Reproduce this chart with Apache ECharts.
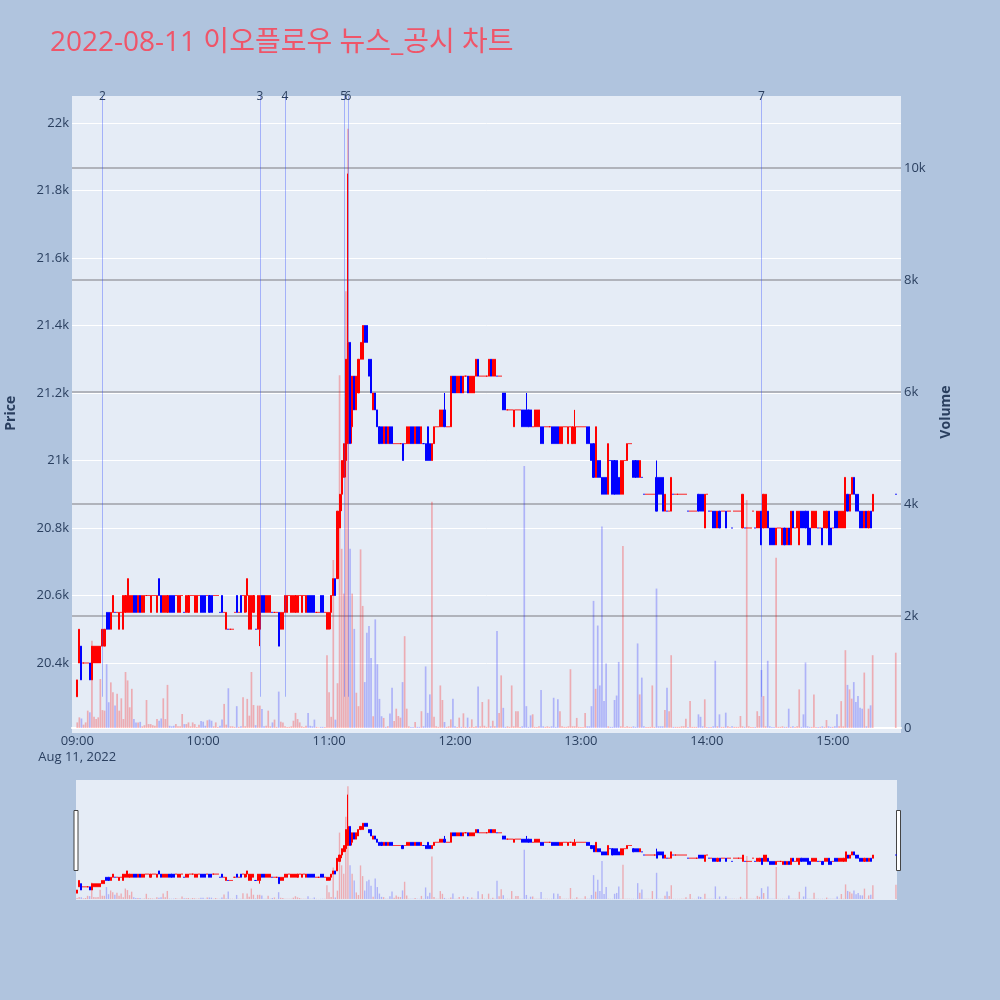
<!DOCTYPE html>
<html><head><meta charset="utf-8">
<script src="https://cdn.jsdelivr.net/npm/echarts@6/dist/echarts.min.js"></script>
<style>html,body{margin:0;padding:0;background:#b0c4de;}#c{width:1000px;height:1000px;}</style>
</head><body><div id="c"></div>
<script>
const chartTitle = '2022-08-11 이오플로우 뉴스_공시 차트';
const dateLabel = 'Aug 11, 2022';
const sessionStartMin = 9 * 60;      // 09:00
const sessionMinutes = 391;          // 09:00 .. 15:30
const padBefore = ['08:58', '08:59'];
const padAfter = ['15:31', '15:32'];

const opens = [
20300,20400,20450,20400,20400,20400,20400,20350,20400,20400,
20400,20400,20450,20450,20550,20550,20500,20550,20550,20550,
20500,20550,20500,20550,20550,20550,20550,20600,20600,20550,
20600,20550,20550,20600,20600,20550,20600,20600,20550,20650,
20600,20550,20550,20550,20600,20600,20600,20600,20550,20550,
20600,20550,20550,20550,20600,20600,20550,20550,20600,20600,
20600,20600,20600,20600,20600,20600,20600,20600,20550,20600,
20550,20500,20500,20500,20500,20550,20600,20550,20600,20600,
20550,20600,20500,20500,20550,20500,20500,20500,20600,20600,
20550,20550,20550,20550,20550,20550,20550,20500,20500,20550,
20550,20600,20550,20550,20550,20550,20600,20550,20600,20550,
20600,20600,20600,20600,20550,20550,20600,20600,20550,20500,
20500,20550,20600,20650,20650,20800,20900,20950,21000,21050,
21350,21100,21250,21150,21200,21300,21300,21400,21400,21300,
21300,21150,21200,21150,21100,21100,21050,21100,21050,21100,
21100,21050,21050,21050,21050,21050,21050,21050,21050,21100,
21100,21050,21100,21100,21050,21050,21050,21100,21050,21000,
21050,21100,21100,21100,21100,21150,21100,21100,21100,21250,
21250,21200,21200,21250,21200,21250,21250,21200,21200,21200,
21250,21300,21250,21250,21250,21250,21250,21300,21250,21250,
21250,21250,21250,21200,21200,21150,21150,21150,21100,21150,
21150,21150,21150,21150,21150,21150,21150,21100,21100,21100,
21100,21100,21100,21100,21100,21100,21100,21100,21100,21100,
21050,21050,21100,21100,21050,21100,21050,21050,21100,21100,
21100,21100,21100,21100,21100,21050,21050,20950,21000,21000,
20950,20950,20950,20900,21000,21000,21000,21000,20950,20900,
20900,21000,21000,21050,21050,21000,21000,21000,20950,20950,
20900,20900,20900,20900,20900,20900,20950,20950,20950,20950,
20850,20850,20850,20850,20900,20900,20900,20900,20900,20900,
20900,20850,20850,20850,20850,20850,20900,20900,20900,20800,
20900,20850,20850,20850,20850,20800,20850,20850,20850,20850,
20850,20850,20800,20850,20850,20850,20850,20800,20800,20800,
20800,20800,20850,20800,20800,20800,20850,20800,20800,20850,
20800,20800,20800,20750,20800,20800,20750,20800,20750,20800,
20750,20850,20800,20800,20750,20850,20850,20850,20850,20800,
20800,20800,20800,20800,20800,20800,20800,20800,20850,20800,
20800,20850,20850,20800,20800,20800,20800,20900,20850,20900,
20950,20900,20900,20850,20850,20800,20850,20800,20850,20850,
null,null,null,null,null,null,null,null,null,null,
20900];

const closes = [
20350,20500,20350,20400,20400,20400,20350,20450,20450,20450,
20450,20450,20500,20500,20500,20500,20550,20600,20550,20550,
20550,20550,20600,20600,20650,20600,20600,20550,20550,20600,
20550,20600,20600,20600,20600,20600,20600,20600,20600,20600,
20550,20600,20600,20600,20550,20550,20550,20600,20600,20600,
20600,20550,20600,20600,20600,20600,20600,20600,20600,20550,
20550,20550,20600,20550,20550,20600,20600,20600,20550,20550,
20550,20550,20500,20500,20500,20550,20550,20550,20550,20600,
20600,20650,20600,20600,20600,20500,20600,20600,20550,20550,
20600,20600,20600,20550,20550,20550,20450,20550,20550,20600,
20600,20600,20600,20600,20600,20600,20600,20600,20600,20600,
20550,20550,20550,20550,20550,20550,20550,20550,20550,20550,
20550,20600,20650,20600,20850,20900,21000,21050,21300,21350,
21050,21250,21150,21250,21300,21350,21400,21350,21350,21250,
21200,21200,21150,21100,21050,21050,21100,21050,21100,21050,
21050,21050,21050,21050,21050,21000,21050,21100,21100,21050,
21050,21100,21050,21050,21100,21050,21000,21000,21000,21050,
21100,21100,21100,21150,21150,21100,21100,21100,21250,21200,
21200,21250,21250,21200,21250,21250,21200,21250,21250,21250,
21300,21250,21250,21250,21250,21250,21300,21250,21300,21300,
21250,21250,21250,21150,21150,21150,21150,21150,21150,21150,
21150,21150,21100,21100,21100,21100,21100,21100,21150,21150,
21150,21050,21050,21100,21100,21100,21050,21050,21050,21050,
21100,21100,21100,21100,21100,21100,21100,21100,21100,21100,
21100,21100,21100,21050,21050,21000,20950,21100,20950,20950,
20900,20900,20900,21050,21000,20900,20900,20900,20900,21000,
21000,21000,21050,21050,21050,20950,20950,20950,21000,20950,
20900,20900,20900,20900,20900,20900,20850,20900,20900,20850,
20900,20850,20850,20950,20900,20900,20900,20900,20900,20900,
20900,20850,20850,20850,20850,20850,20850,20850,20850,20900,
20900,20850,20850,20800,20800,20850,20800,20850,20850,20800,
20850,20850,20800,20850,20850,20850,20850,20900,20800,20800,
20800,20800,20850,20800,20850,20850,20750,20900,20900,20800,
20750,20750,20750,20800,20800,20800,20800,20750,20800,20750,
20850,20800,20800,20850,20850,20800,20800,20800,20750,20750,
20850,20850,20850,20800,20800,20750,20850,20850,20750,20750,
20800,20800,20800,20850,20850,20850,20950,20850,20900,20950,
20900,20850,20850,20800,20800,20850,20800,20850,20800,20900,
null,null,null,null,null,null,null,null,null,null,
20900];

const highs = [
20350,20500,20450,20400,20400,20400,20400,20450,20450,20450,
20450,20450,20500,20500,20550,20550,20550,20600,20550,20550,
20550,20550,20600,20600,20650,20600,20600,20600,20600,20600,
20600,20600,20600,20600,20600,20600,20600,20600,20600,20650,
20600,20600,20600,20600,20600,20600,20600,20600,20600,20600,
20600,20550,20600,20600,20600,20600,20600,20600,20600,20600,
20600,20600,20600,20600,20600,20600,20600,20600,20550,20600,
20550,20550,20500,20500,20500,20550,20600,20550,20600,20600,
20600,20650,20600,20600,20600,20500,20600,20600,20600,20600,
20600,20600,20600,20550,20550,20550,20550,20550,20550,20600,
20600,20600,20600,20600,20600,20600,20600,20600,20600,20600,
20600,20600,20600,20600,20550,20550,20600,20600,20550,20550,
20550,20600,20650,20650,20850,20900,21000,21050,21300,21850,
21350,21250,21250,21250,21300,21350,21400,21400,21400,21300,
21300,21200,21200,21150,21100,21100,21100,21100,21100,21100,
21100,21050,21050,21050,21050,21050,21050,21100,21100,21100,
21100,21100,21100,21100,21100,21050,21050,21100,21050,21050,
21100,21100,21100,21150,21150,21200,21100,21100,21250,21250,
21250,21250,21250,21250,21250,21250,21250,21250,21250,21250,
21300,21300,21250,21250,21250,21250,21300,21300,21300,21300,
21250,21250,21250,21200,21200,21150,21150,21150,21150,21150,
21150,21150,21150,21150,21200,21150,21150,21100,21150,21150,
21150,21100,21100,21100,21100,21100,21100,21100,21100,21100,
21100,21100,21100,21100,21100,21100,21100,21150,21100,21100,
21100,21100,21100,21100,21100,21050,21050,21100,21000,21000,
20950,20950,20950,21050,21000,21000,21000,21000,20950,21000,
21000,21000,21050,21050,21050,21000,21000,21000,21000,20950,
20900,20900,20900,20900,20900,20900,21000,20950,20950,20950,
20900,20850,20850,20950,20900,20900,20900,20900,20900,20900,
20900,20850,20850,20850,20850,20850,20900,20900,20900,20900,
20900,20850,20850,20850,20850,20850,20850,20850,20850,20850,
20850,20850,20800,20850,20850,20850,20850,20900,20800,20800,
20800,20800,20850,20800,20850,20850,20850,20900,20900,20850,
20800,20800,20800,20800,20800,20800,20800,20800,20800,20800,
20850,20850,20800,20850,20850,20850,20850,20850,20850,20800,
20850,20850,20850,20800,20800,20800,20850,20850,20850,20800,
20800,20850,20850,20850,20850,20850,20950,20900,20900,20950,
20950,20900,20900,20850,20850,20850,20850,20850,20850,20900,
null,null,null,null,null,null,null,null,null,null,
20900];

const lows = [
20300,20400,20350,20400,20400,20400,20350,20350,20400,20400,
20400,20400,20450,20450,20500,20500,20500,20550,20550,20550,
20500,20550,20500,20550,20550,20550,20550,20550,20550,20550,
20550,20550,20550,20600,20600,20550,20600,20600,20550,20600,
20550,20550,20550,20550,20550,20550,20550,20600,20550,20550,
20600,20550,20550,20550,20600,20600,20550,20550,20600,20550,
20550,20550,20600,20550,20550,20600,20600,20600,20550,20550,
20550,20500,20500,20500,20500,20550,20550,20550,20550,20600,
20550,20550,20500,20500,20550,20500,20500,20450,20550,20550,
20550,20550,20550,20550,20550,20550,20450,20500,20500,20550,
20550,20600,20550,20550,20550,20550,20600,20550,20600,20550,
20550,20550,20550,20550,20550,20550,20550,20550,20550,20500,
20500,20500,20600,20600,20650,20800,20850,20950,20950,21050,
21050,21050,21150,21150,21200,21300,21300,21350,21350,21250,
21200,21150,21150,21100,21050,21050,21050,21050,21050,21050,
21050,21050,21050,21050,21050,21000,21050,21050,21050,21050,
21050,21050,21050,21050,21050,21050,21000,21000,21000,21000,
21050,21100,21100,21100,21100,21100,21100,21100,21100,21200,
21200,21200,21200,21200,21200,21250,21200,21200,21200,21200,
21250,21250,21250,21250,21250,21250,21250,21250,21250,21250,
21250,21250,21250,21150,21150,21150,21150,21150,21100,21150,
21150,21150,21100,21100,21100,21100,21100,21100,21100,21100,
21100,21050,21050,21100,21100,21100,21050,21050,21050,21050,
21050,21050,21100,21100,21050,21100,21050,21050,21100,21100,
21100,21100,21100,21050,21050,21000,20950,20950,20950,20950,
20900,20900,20900,20900,21000,20900,20900,20900,20900,20900,
20900,21000,21000,21050,21050,20950,20950,20950,20950,20950,
20900,20900,20900,20900,20900,20900,20850,20900,20900,20850,
20850,20850,20850,20850,20900,20900,20900,20900,20900,20900,
20900,20850,20850,20850,20850,20850,20850,20850,20850,20800,
20900,20850,20850,20800,20800,20800,20800,20850,20850,20800,
20850,20850,20800,20850,20850,20850,20850,20800,20800,20800,
20800,20800,20850,20800,20800,20800,20750,20800,20800,20800,
20750,20750,20750,20750,20800,20800,20750,20750,20750,20750,
20750,20800,20800,20800,20750,20800,20800,20800,20750,20750,
20800,20800,20800,20800,20800,20750,20800,20800,20750,20750,
20800,20800,20800,20800,20800,20800,20800,20850,20850,20900,
20900,20850,20850,20800,20800,20800,20800,20800,20800,20850,
null,null,null,null,null,null,null,null,null,null,
20900];

const volumes = [
100,190,170,60,100,310,280,1560,200,160,
190,875,320,310,1140,460,815,640,400,610,
310,530,160,1000,850,370,700,160,100,100,
110,30,50,500,70,70,50,40,160,130,
170,530,160,770,40,30,40,70,30,30,
250,70,70,100,30,100,70,20,60,125,
113,40,137,150,130,30,100,20,40,150,
430,60,710,30,30,20,390,20,30,550,
30,520,220,1000,410,50,400,400,340,30,
40,310,30,100,150,20,650,113,100,30,
20,20,30,130,270,160,100,30,20,40,
270,40,30,150,20,10,20,20,20,1300,
640,200,3000,150,800,6300,3200,2400,7800,10700,
3200,2400,1770,630,390,3190,2180,820,1700,1820,
1250,210,1940,1140,520,210,180,20,30,260,
720,125,345,214,185,820,1640,345,30,20,
20,107,20,20,300,30,1100,270,600,4040,
200,30,20,760,500,107,20,30,155,524,
30,20,185,20,262,20,185,20,155,20,
30,740,30,464,40,20,512,30,130,30,
1730,270,940,360,20,30,20,760,30,300,
300,20,30,4680,390,20,225,245,20,20,
30,680,30,20,30,20,30,540,20,512,
300,30,20,20,30,1050,30,30,180,20,
20,20,270,30,30,390,2270,700,1830,760,
3600,480,1150,30,20,20,500,580,1180,30,
3250,20,30,20,20,30,20,1510,600,900,
30,20,20,20,760,20,2490,30,30,30,
320,720,300,1300,20,20,20,20,30,30,
167,20,480,20,20,20,244,200,30,512,
20,20,20,30,1200,30,244,20,20,274,
30,20,30,20,20,20,214,30,20,4070,
30,20,20,20,300,214,1036,570,30,1200,
30,20,20,3040,20,20,30,20,20,345,
20,30,20,30,690,20,244,1170,30,20,
20,600,20,20,20,30,20,143,30,20,
20,30,244,30,480,30,1390,770,690,524,
820,464,570,363,345,990,30,345,405,1300,
null,null,null,null,null,null,null,null,null,null,
1345];

// news / disclosure markers
const markerTimes = ['09:12', '10:27', '10:39', '11:07', '11:09', '14:26'];
const markerLabels = ['2', '3', '4', '5', '6', '7'];
const markerFromPrice = 20300;

// axis settings
const priceMin = 20200, priceMax = 22080, priceStep = 200;
const volMax = 11286, volStep = 2000;

// ---------- build ----------
const pad2 = n => (n < 10 ? '0' : '') + n;
const times = [];
for (let i = 0; i < sessionMinutes; i++) {
  const t = sessionStartMin + i;
  times.push(pad2(Math.floor(t / 60)) + ':' + pad2(t % 60));
}
const mainCats = padBefore.concat(times, padAfter);

const UP = '#ff0000', DOWN = '#0000ff';
const UP_V = 'rgba(255,0,0,0.27)', DOWN_V = 'rgba(0,0,255,0.24)';

const candles = times.map((t, i) => opens[i] == null ? '-' : [opens[i], closes[i], lows[i], highs[i]]);
let prevClose = null, prevUp = true;
const volItems = times.map((t, i) => {
  if (volumes[i] == null) return '-';
  let up;
  if (closes[i] > opens[i]) up = true;
  else if (closes[i] < opens[i]) up = false;
  else up = prevClose == null ? prevUp : closes[i] >= prevClose;
  prevClose = closes[i]; prevUp = up;
  return { value: volumes[i], itemStyle: { color: up ? UP_V : DOWN_V } };
});
const padB = padBefore.map(() => '-'), padA = padAfter.map(() => '-');
const mainCandles = padB.concat(candles, padA);
const mainVols = padB.concat(volItems, padA);

const markLineData = markerTimes.map((t, i) => [
  { name: markerLabels[i], coord: [t, markerFromPrice] },
  { coord: [t, priceMax] }
]);

const FONT = "'Open Sans','Noto Sans CJK KR','Noto Sans',sans-serif";
const TXT = '#2a3f5f';
const L = 72, R = 99;
const gridBase = { outerBoundsMode: 'none', containLabel: false };

const kFmt = v => {
  if (v === 0) return '0';
  return String(+(v / 1000).toFixed(1)) + 'k';
};

const chart = echarts.init(document.getElementById('c'), null, { renderer: 'canvas' });
chart.setOption({
  animation: false,
  backgroundColor: '#b0c4de',
  textStyle: { fontFamily: FONT },
  title: {
    text: chartTitle, left: 45, top: 24,
    textStyle: { fontSize: 28, fontWeight: 'normal', color: '#ef5569', fontFamily: FONT }
  },
  grid: [
    Object.assign({ left: L, right: R, top: 96, bottom: 267, show: true, backgroundColor: '#e5ecf6', borderWidth: 0 }, gridBase),
    Object.assign({ left: L, right: R, top: 96, bottom: 269.5 }, gridBase),
    Object.assign({ left: L, right: R, top: 96, bottom: 272 }, gridBase),
    Object.assign({ left: 76, right: 103, top: 780, bottom: 100, show: true, backgroundColor: '#e5ecf6', borderWidth: 0 }, gridBase),
    Object.assign({ left: 76, right: 103, top: 780, bottom: 100 }, gridBase)
  ],
  xAxis: [
    { gridIndex: 0, type: 'value', show: false },
    {
      gridIndex: 1, type: 'category', data: mainCats, boundaryGap: true,
      axisLine: { show: false }, axisTick: { show: false }, splitLine: { show: false },
      axisLabel: {
        interval: (idx, v) => v.slice(3) === '00' && times.indexOf(v) >= 0,
        formatter: v => v === times[0] ? v + '\n' + dateLabel : v,
        color: TXT, fontSize: 13, margin: 3, lineHeight: 16, fontFamily: FONT
      }
    },
    {
      gridIndex: 2, type: 'category', data: mainCats, boundaryGap: true,
      axisLine: { show: true, lineStyle: { color: '#ffffff', width: 2 } },
      axisTick: { show: false }, axisLabel: { show: false }, splitLine: { show: false }
    },
    { gridIndex: 3, type: 'category', data: times, boundaryGap: true, show: false },
    { gridIndex: 4, type: 'category', data: times, boundaryGap: true, show: false }
  ],
  yAxis: [
    { gridIndex: 0, type: 'value', show: false },
    {
      gridIndex: 1, type: 'value', min: priceMin, max: priceMax, interval: priceStep,
      name: 'Price', nameLocation: 'middle', nameGap: 54, nameRotate: 90,
      nameTextStyle: { color: TXT, fontSize: 14, fontWeight: 'bold', fontFamily: FONT },
      axisLine: { show: false }, axisTick: { show: false },
      axisLabel: { color: TXT, fontSize: 13, margin: 3, formatter: kFmt, showMinLabel: false, showMaxLabel: false, fontFamily: FONT },
      splitLine: { show: true, showMinLine: false, showMaxLine: false, lineStyle: { color: '#ffffff', width: 1 } }
    },
    {
      gridIndex: 2, type: 'value', position: 'right', min: 0, max: volMax, interval: volStep,
      name: 'Volume', nameLocation: 'middle', nameGap: 38, nameRotate: 90,
      nameTextStyle: { color: TXT, fontSize: 14, fontWeight: 'bold', fontFamily: FONT },
      axisLine: { show: false }, axisTick: { show: false },
      axisLabel: { color: TXT, fontSize: 13, margin: 3, formatter: kFmt, showMaxLabel: false, fontFamily: FONT },
      splitLine: { show: true, showMinLine: false, showMaxLine: false, lineStyle: { color: 'rgba(110,110,115,0.6)', width: 1.5 } }
    },
    { gridIndex: 3, type: 'value', min: 20192.6, max: priceMax, show: false },
    { gridIndex: 4, type: 'value', min: -89, max: volMax, show: false }
  ],
  series: [
    {
      type: 'bar', name: 'Volume', xAxisIndex: 2, yAxisIndex: 2,
      data: mainVols, barWidth: 1.7, silent: true
    },
    {
      type: 'candlestick', name: 'Price', xAxisIndex: 1, yAxisIndex: 1,
      data: mainCandles, barWidth: 1.6,
      itemStyle: { color: UP, color0: DOWN, borderColor: UP, borderColor0: DOWN, borderWidth: 1 },
      markLine: {
        silent: true, symbol: ['none', 'none'], animation: false,
        lineStyle: { color: 'rgba(40,70,255,0.35)', width: 1, type: 'solid' },
        label: { show: true, position: 'end', distance: -7, formatter: p => p.name, color: TXT, fontSize: 12, fontFamily: FONT },
        data: markLineData
      }
    },
    {
      type: 'bar', xAxisIndex: 4, yAxisIndex: 4, data: volItems, barWidth: 1.4, silent: true
    },
    {
      type: 'candlestick', xAxisIndex: 3, yAxisIndex: 3, data: candles, barWidth: 1.6, silent: true,
      itemStyle: { color: UP, color0: DOWN, borderColor: UP, borderColor0: DOWN, borderWidth: 1 }
    }
  ],
  graphic: [
    { type: 'rect', left: 73.5, top: 810, shape: { width: 4, height: 60 }, style: { fill: '#ffffff', stroke: '#444444', lineWidth: 1 }, silent: true },
    { type: 'rect', left: 896, top: 810, shape: { width: 4, height: 60 }, style: { fill: '#ffffff', stroke: '#444444', lineWidth: 1 }, silent: true }
  ]
});
</script></body></html>
